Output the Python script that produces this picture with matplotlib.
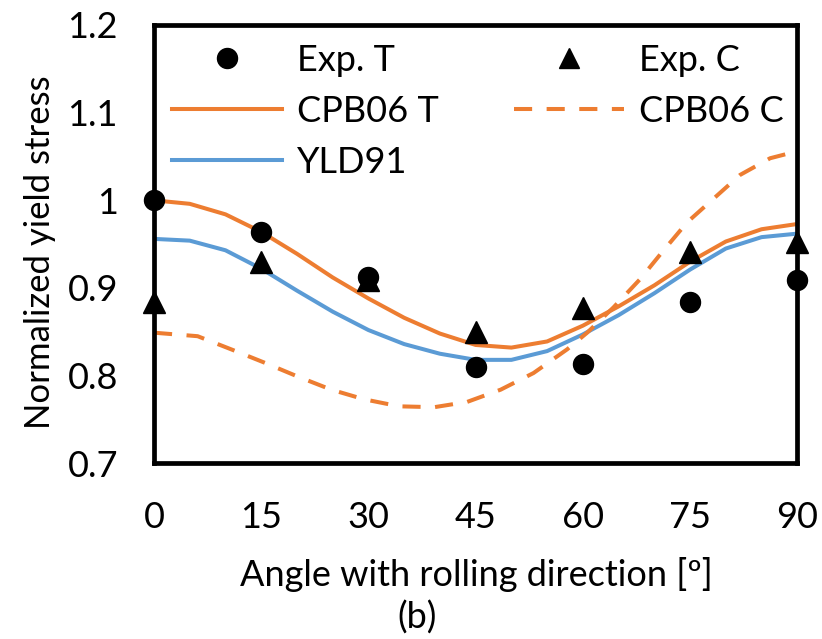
import matplotlib
matplotlib.use("Agg")
import matplotlib.pyplot as plt
from matplotlib.lines import Line2D

# ---------------- data ----------------
exp_angles = [0, 15, 30, 45, 60, 75, 90]
exp_t = [1.000, 0.964, 0.913, 0.810, 0.813, 0.884, 0.909]
exp_c = [0.884, 0.930, 0.909, 0.850, 0.877, 0.941, 0.952]

cpb06_t_angles = [0, 5, 10, 15, 20, 25, 30, 35, 40, 45, 50, 55, 60, 65, 70, 75, 80, 85, 90]
cpb06_t = [1.000, 0.996, 0.984, 0.964, 0.939, 0.912, 0.888, 0.866, 0.848, 0.835, 0.832,
           0.839, 0.857, 0.879, 0.903, 0.930, 0.953, 0.967, 0.973]

yld91_angles = [0, 5, 10, 15, 20, 25, 30, 35, 40, 45, 50, 55, 60, 65, 70, 75, 80, 85, 90]
yld91 = [0.956, 0.954, 0.943, 0.922, 0.897, 0.873, 0.852, 0.836, 0.825, 0.818, 0.818,
         0.828, 0.847, 0.869, 0.894, 0.921, 0.945, 0.958, 0.962]

cpb06_c_angles = [0, 6.1, 10.8, 15.4, 20.1, 24.8, 29.4, 34.3, 39.2, 43.8, 48.5, 53.1,
                  57.8, 60.6, 64.3, 68.0, 71.3, 74.6, 78.3, 82.0, 86.2, 90]
cpb06_c = [0.849, 0.845, 0.830, 0.815, 0.799, 0.784, 0.773, 0.765, 0.764, 0.770, 0.784, 0.803,
           0.830, 0.849, 0.878, 0.910, 0.943, 0.975, 1.002, 1.029, 1.048, 1.056]

x_ticks = [0, 15, 30, 45, 60, 75, 90]
y_ticks = [0.7, 0.8, 0.9, 1.0, 1.1, 1.2]
y_tick_labels = ["0.7", "0.8", "0.9", "1", "1.1", "1.2"]

ORANGE = "#ED7D31"
BLUE = "#5B9BD5"
FONT = "Lato"
FS = 26

plt.rcParams["font.family"] = [FONT, "DejaVu Sans"]

W, H = 822, 639
fig = plt.figure(figsize=(W / 100, H / 100), dpi=100)
L, R, T, B = 154, 797.3, 25, 463.3
ax = fig.add_axes([L / W, 1 - B / H, (R - L) / W, (B - T) / H])

ax.set_xlim(0, 90)
ax.set_ylim(0.7, 1.2)

lw = 2.9
ax.plot(cpb06_t_angles, cpb06_t, color=ORANGE, lw=lw, solid_capstyle="butt",
        solid_joinstyle="round", zorder=3)
ax.plot(cpb06_c_angles, cpb06_c, color=ORANGE, lw=lw, dashes=(4.5, 3.6),
        dash_capstyle="butt", zorder=3)
ax.plot(yld91_angles, yld91, color=BLUE, lw=lw, solid_capstyle="butt",
        solid_joinstyle="round", zorder=2)

ax.plot(exp_angles, exp_t, linestyle="none", marker="o", ms=14.4, color="black",
        clip_on=False, zorder=5)
ax.plot(exp_angles, exp_c, linestyle="none", marker="^", ms=15.5, color="black",
        clip_on=False, zorder=5)

for s in ax.spines.values():
    s.set_linewidth(3.4)
    s.set_color("black")
    s.set_zorder(4)

ax.set_xticks(x_ticks)
ax.set_xticklabels([str(v) for v in x_ticks])
ax.set_yticks(y_ticks)
ax.set_yticklabels(y_tick_labels)
ax.tick_params(axis="both", length=0, labelsize=FS)
ax.tick_params(axis="x", pad=27)
ax.tick_params(axis="y", pad=26)

# axis labels
fig.text(476 / W, 1 - 586 / H, "Angle with rolling direction [º]", fontsize=FS,
         ha="center", va="baseline")
fig.text(417 / W, 1 - 629 / H, "(b)", fontsize=FS, ha="center", va="baseline")
fig.text(50 / W, 1 - 252 / H, "Normalized yield stress", fontsize=25, rotation=90,
         rotation_mode="anchor", ha="center", va="baseline")

# legends (two columns placed separately)
h_expt = Line2D([], [], linestyle="none", marker="o", ms=14.4, color="black")
h_expc = Line2D([], [], linestyle="none", marker="^", ms=15, color="black")
h_cpbt = Line2D([], [], color=ORANGE, lw=lw)
h_cpbc = Line2D([], [], color=ORANGE, lw=lw, dashes=(4.5, 3.6))
h_yld = Line2D([], [], color=BLUE, lw=lw)

common = dict(frameon=False, fontsize=FS, handlelength=3.05, handletextpad=0.42,
              labelspacing=0.50, borderpad=0, borderaxespad=0, loc="upper left",
              numpoints=1, bbox_transform=fig.transFigure)
leg1 = ax.legend([h_expt, h_cpbt, h_yld], ["Exp. T", "CPB06 T", "YLD91"],
                 bbox_to_anchor=(172 / W, 1 - 44 / H), **common)
ax.add_artist(leg1)
leg2 = ax.legend([h_expc, h_cpbc], ["Exp. C", "CPB06 C"],
                 bbox_to_anchor=(514 / W, 1 - 44 / H), **common)

fig.savefig("out.png", dpi=100)
